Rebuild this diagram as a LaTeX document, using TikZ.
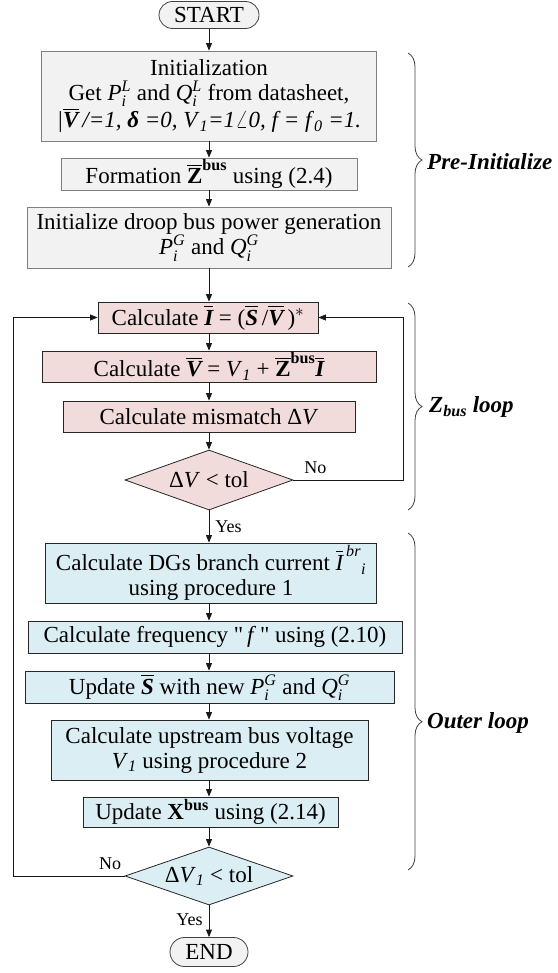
\documentclass[tikz,border=0pt]{standalone}
\usepackage{fontspec}
\setmainfont{Liberation Serif}
\usepackage{amsmath}
\usetikzlibrary{shapes.geometric,arrows.meta,decorations.pathreplacing}
\definecolor{gfill}{HTML}{F2F2F2}
\definecolor{pfill}{HTML}{F2DCDB}
\definecolor{bfill}{HTML}{DBEEF4}
\newcommand{\vb}[1]{\ensuremath{\overline{\text{\bfseries\itshape #1}}}}
\newcommand{\zb}{\ensuremath{\overline{\textbf{Z}}^{\textbf{bus}}}}
\newcommand{\ssc}[3]{\textit{#1}\ensuremath{_{\textit{#2}}^{\textit{#3}}}}
\newcommand{\sq}{{\addfontfeatures{Ligatures=TeXOff}"}}
\begin{document}
\begin{tikzpicture}[x=1pt,y=1pt,
  every node/.style={font=\fontsize{23}{25}\selectfont, inner sep=0pt, align=center},
  gbox/.style={draw=black!50, fill=gfill, line width=0.8pt, rectangle},
  pbox/.style={draw=black!85, fill=pfill, line width=0.8pt, rectangle},
  bbox/.style={draw=black!85, fill=bfill, line width=0.8pt, rectangle},
  term/.style={draw=black!75, fill=gfill, line width=0.8pt, rectangle},
  dec/.style={diamond, draw=black!85, line width=0.8pt, aspect=2.8, minimum width=168pt},
  arr/.style={-{Triangle[length=7.5pt,width=6pt]}, line width=0.8pt, draw=black!90},
  lbl/.style={font=\fontsize{18}{20}\selectfont},
  brc/.style={decorate, decoration={brace, amplitude=14pt}, draw=black!75, line width=0.8pt},
  blab/.style={font=\fontsize{23}{25}\selectfont\bfseries\itshape, anchor=west}
]
\useasboundingbox (0,0) rectangle (557,-973);

\node[term, rounded corners=13.5pt, minimum width=100pt, minimum height=27pt] (start) at (209,-15) {START};
\node[gbox, minimum width=335pt, minimum height=90pt] (init) at (209,-96)
  {Initialization\\ Get \ssc{P}{i}{L} and \ssc{Q}{i}{L} from datasheet,\\
   \textit{|}\vb{V}\,\textit{/=1, }\textbf{\textit{δ}}\textit{ =0, V}\ensuremath{_{\textit{1}}}\textit{=1}\ensuremath{\angle}\textit{0, f = f}\ensuremath{_{\textit{0}}}\textit{ =1.}};
\node[gbox, minimum width=296pt, minimum height=32pt] (form) at (209,-174) {Formation \zb\ using (2.4)};
\node[gbox, minimum width=364pt, minimum height=61pt] (droop) at (209,-237.5)
  {Initialize droop bus power generation\\ \ssc{P}{i}{G} and \ssc{Q}{i}{G}};
\node[pbox, minimum width=220pt, minimum height=31pt] (calcI) at (208,-317.5)
  {Calculate \vb{I} = (\vb{S}\,/\vb{V}\,)\ensuremath{^{*}}};
\node[pbox, minimum width=334pt, minimum height=31pt] (calcV) at (209,-366.5)
  {Calculate \vb{V} = \textit{V}\ensuremath{_{\textit{1}}} + \zb\vb{I}};
\node[pbox, minimum width=292pt, minimum height=31pt] (mism) at (209,-416.5)
  {Calculate mismatch Δ\textit{V}};
\node[dec, fill=pfill, minimum height=60pt] (d1) at (209,-480) {Δ\textit{V} < tol};
\node[bbox, minimum width=331pt, minimum height=60pt] (dg) at (211,-573)
  {Calculate DGs branch current \ensuremath{\overline{\textit{I}}^{\,\textit{br}}\,\!_{\textit{i}}}\\ using procedure 1};
\node[bbox, minimum width=374pt, minimum height=32pt] (freq) at (215,-637)
  {Calculate frequency \sq\,\textit{f}\,\sq\ using (2.10)};
\node[bbox, minimum width=369pt, minimum height=32pt] (updS) at (209.5,-687)
  {Update \vb{S} with new \ssc{P}{i}{G} and \ssc{Q}{i}{G}};
\node[bbox, minimum width=317pt, minimum height=60pt] (ups) at (209.5,-750)
  {Calculate upstream bus voltage\\ \textit{V}\ensuremath{_{\textit{1}}} using procedure 2};
\node[bbox, minimum width=255pt, minimum height=30pt] (updX) at (210.5,-812)
  {Update \ensuremath{\textbf{X}^{\textbf{bus}}} using (2.14)};
\node[dec, fill=bfill, minimum height=58pt] (d2) at (209,-876) {Δ\textit{V}\ensuremath{_{\textit{1}}} < tol};
\node[term, rounded corners=14.5pt, minimum width=78pt, minimum height=29pt] (end) at (209,-952) {END};

\coordinate (x0) at (209,0);
\foreach \a/\b in {start/init, init/form, form/droop, droop/calcI, calcI/calcV, calcV/mism, mism/d1,
                   dg/freq, freq/updS, updS/ups, ups/updX, updX/d2}
  \draw[arr] (x0 |- \a.south) -- (x0 |- \b.north);
\draw[arr] (d1.south) -- node[lbl, right=6pt]{Yes} (x0 |- dg.north);
\draw[arr] (d2.south) -- node[lbl, left=6pt, pos=0.45]{Yes} (end.north);

\coordinate (r1b) at (403,-480);
\coordinate (r1) at (403,-317.5);
\draw[arr] (d1.east) -- node[lbl, above=6pt, pos=0.2]{No} (r1b) -- (r1) -- (calcI.east);
\coordinate (l2) at (13,-876);
\draw[arr] (d2.west) -- node[lbl, above=6pt, pos=0.13]{No} (l2) |- (calcI.west);

\coordinate (b1t) at (408,-53);  \coordinate (b1b) at (408,-267);
\coordinate (b2t) at (408,-303); \coordinate (b2b) at (408,-510);
\coordinate (b3t) at (408,-533); \coordinate (b3b) at (408,-870);
\draw[brc] (b1t) -- (b1b);
\draw[brc] (b2t) -- (b2b);
\draw[brc, decoration={brace, amplitude=14pt, aspect=0.56}] (b3t) -- (b3b);
\node[blab] (pl) at (427,-162) {Pre-Initialize};
\node[blab] (zl) at (429,-407) {Z\ensuremath{_{\text{bus}}} loop};
\node[blab] (ol) at (427,-723) {Outer loop};
\end{tikzpicture}
\end{document}
